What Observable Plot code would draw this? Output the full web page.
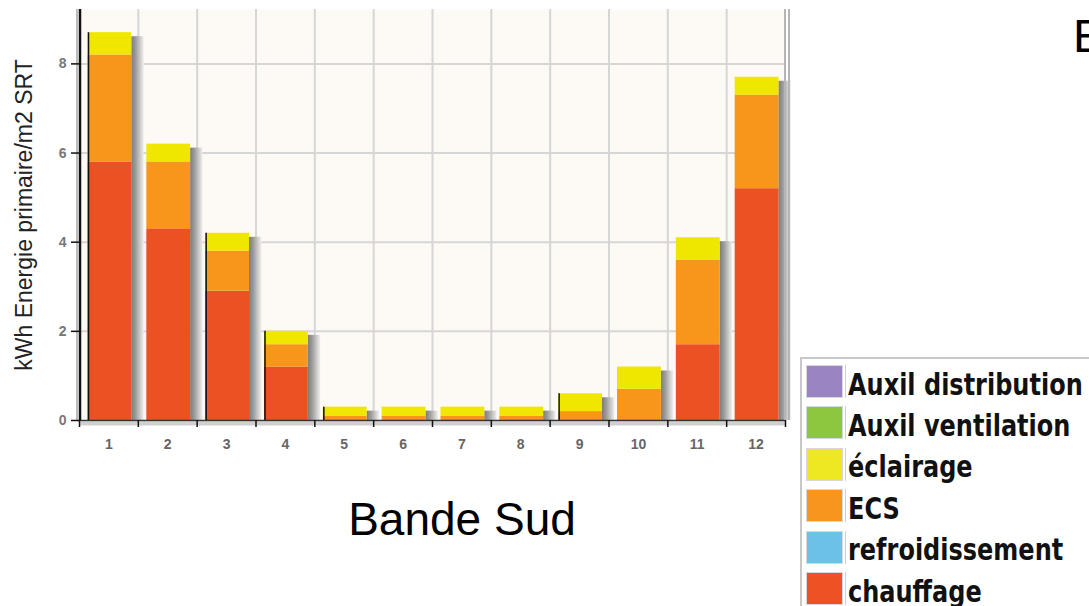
<!DOCTYPE html>
<html>
<head>
<meta charset="utf-8">
<script src="https://cdn.jsdelivr.net/npm/d3@7"></script>
<script src="https://cdn.jsdelivr.net/npm/@observablehq/plot@0.6"></script>
<style>
html, body { margin: 0; padding: 0; background: #fff; overflow: hidden; width: 1089px; height: 606px; }
#page { position: relative; width: 1089px; height: 606px; overflow: hidden; }
#chart { position: absolute; left: 0; top: 0; }
.big { position: absolute; font-family: "Liberation Sans", Arial, sans-serif; color: #000; line-height: 1; white-space: nowrap; }
#legend { position: absolute; left: 800px; top: 357px; width: 310px; height: 270px; border: 2px solid #c8c8c8; background: #fff; box-sizing: border-box; }
.row { position: absolute; left: 4px; width: 300px; height: 36px; }
.sw { position: absolute; left: 0; top: 0; width: 37px; height: 33px; box-sizing: border-box; border: 1px solid #d8d8d8; box-shadow: 2px 0 0 #fff, 3px 0 0 #d0d0d0; }
.lab { position: absolute; left: 42px; top: 4.6px; font-family: "DejaVu Sans", Verdana, sans-serif; font-weight: bold; font-size: 30px; line-height: 1; color: #111; transform: scaleX(0.8); transform-origin: 0 0; white-space: nowrap; }
</style>
</head>
<body>
<div id="page">
  <div id="chart"></div>
  <div class="big" id="title" style="font-size:46px; left:462px; top:496px; transform:translateX(-50%);"></div>
  <div class="big" id="title2" style="font-size:47px; left:1073px; top:12px;"></div>
  <div id="legend"></div>
</div>
<script>
// ---- data ----
const months = [1, 2, 3, 4, 5, 6, 7, 8, 9, 10, 11, 12];
const chauffage        = [5.8, 4.3, 2.9, 1.2, 0, 0, 0, 0, 0, 0, 1.7, 5.2];
const refroidissement  = [0, 0, 0, 0, 0, 0, 0, 0, 0, 0, 0, 0];
const ecs              = [2.4, 1.5, 0.9, 0.5, 0.1, 0.1, 0.1, 0.1, 0.2, 0.7, 1.9, 2.1];
const eclairage        = [0.5, 0.4, 0.4, 0.3, 0.2, 0.2, 0.2, 0.2, 0.4, 0.5, 0.5, 0.4];
const auxilVentilation = [0, 0, 0, 0, 0, 0, 0, 0, 0, 0, 0, 0];
const auxilDistribution= [0, 0, 0, 0, 0, 0, 0, 0, 0, 0, 0, 0];
const yTicks = [0, 2, 4, 6, 8];
const yLabel = "kWh Energie primaire/m2 SRT";
const chartTitle = "Bande Sud";
const otherTitle = "E";
const leftEdgeMonths = [1, 3, 4, 5, 9];

// stacking order (bottom to top)
const series = [
  {name: "chauffage", values: chauffage, color: "#eb5123", legendColor: "#ee5223"},
  {name: "refroidissement", values: refroidissement, color: "#6cc1e9", legendColor: "#6cc1e9"},
  {name: "ECS", values: ecs, color: "#f7961a", legendColor: "#f7961d"},
  {name: "éclairage", values: eclairage, color: "#efe700", legendColor: "#ede822"},
  {name: "Auxil ventilation", values: auxilVentilation, color: "#8dc63f", legendColor: "#8dc63f"},
  {name: "Auxil distribution", values: auxilDistribution, color: "#9a84c1", legendColor: "#9a84c1"}
];

// build stacked table
const rows = [];
const totals = [];
months.forEach((m, i) => {
  let c = 0;
  series.forEach(s => {
    const v = s.values[i];
    if (v > 0) rows.push({month: m, series: s.name, color: s.color, y1: c, y2: c + v});
    c += v;
  });
  totals.push({month: m, total: c});
});
const boundaries = d3.range(0, months.length + 1).map(k => k + 0.5);
const innerBoundaries = boundaries.slice(1, -1);
const totalOf = m => totals.find(t => t.month === m).total;

const plot = Plot.plot({
  width: 800,
  height: 470,
  marginLeft: 79,
  marginRight: 15,
  marginTop: 9,
  marginBottom: 50,
  x: {domain: [0.5, 12.5], axis: null},
  y: {domain: [0, 9.22], axis: null},
  style: {fontFamily: "'Liberation Sans', Arial, sans-serif", background: "transparent", overflow: "visible"},
  marks: [
    Plot.frame({fill: "#fdf9f5", stroke: null}),
    Plot.ruleY(yTicks.filter(d => d > 0), {stroke: "#d6d6d6", strokeWidth: 2}),
    Plot.ruleX(innerBoundaries, {stroke: "#d6d6d6", strokeWidth: 2}),
    // drop shadows (a strip just right of each bar)
    Plot.rectY(totals, {x1: d => d.month - 0.5, x2: d => d.month + 0.5, y1: 0, y2: "total",
      insetLeft: 40, insetRight: 6.5, insetTop: 4, dx: 12.3, fill: "url(#shadowGrad)"}),
    // stacked bars
    Plot.rectY(rows, {x1: d => d.month - 0.5, x2: d => d.month + 0.5, y1: "y1", y2: "y2",
      fill: "color", insetLeft: 8.5, insetRight: 6.5}),
    Plot.ruleX(leftEdgeMonths, {x: d => d - 0.5, y1: 0, y2: d => totalOf(d), dx: 9, stroke: "#111", strokeWidth: 1.5}),
    // x axis line
    Plot.ruleY([0], {stroke: "#d0d0d0", strokeWidth: 4, dy: 3}),
    Plot.ruleY([0], {stroke: "#333", strokeWidth: 1.5}),
    // left axis
    Plot.ruleX([0.5], {stroke: "#bdbdbd", strokeWidth: 2, dx: -2.5}),
    Plot.ruleX([0.5], {stroke: "#111", strokeWidth: 2.5, dx: 0.5}),
    // right edge
    Plot.ruleX([12.5], {stroke: "#b5b5b5", strokeWidth: 2, dx: -0.5}),
    Plot.ruleX([12.5], {stroke: "#b5b5b5", strokeWidth: 2, dx: 3.5}),
    // x boundary ticks
    Plot.ruleX(boundaries, {y1: 0, y2: 0, insetTop: 0, insetBottom: -7, stroke: "#111", strokeWidth: 1.5}),
    Plot.axisY(yTicks, {tickSize: 8, tickPadding: 5, fontSize: 14, fontWeight: "bold", color: "#777", stroke: "#111", strokeWidth: 1.5}),
    Plot.axisX(months, {tickSize: 0, tickPadding: 19, fontSize: 14, fontWeight: "bold", color: "#666"}),
    Plot.text([yLabel], {text: d => d, frameAnchor: "left", textAnchor: "middle", rotate: -90, dx: -55, dy: 0,
      fontSize: 23, fill: "#222", lineAnchor: "middle"})
  ]
});

// shadow gradient
const svg = d3.select(plot);
const grad = svg.insert("defs", ":first-child").append("linearGradient")
  .attr("id", "shadowGrad").attr("x1", 0).attr("x2", 1).attr("y1", 0).attr("y2", 0);
grad.append("stop").attr("offset", "0%").attr("stop-color", "#7c7c7c");
grad.append("stop").attr("offset", "35%").attr("stop-color", "#9c9c9c");
grad.append("stop").attr("offset", "100%").attr("stop-color", "#f0eeec");

document.getElementById("chart").appendChild(plot);
document.getElementById("title").textContent = chartTitle;
document.getElementById("title2").textContent = otherTitle;

// legend (top to bottom = reverse stacking order)
const legend = d3.select("#legend");
series.slice().reverse().forEach((s, i) => {
  const r = legend.append("div").attr("class", "row").style("top", (6 + i * 41.4) + "px");
  r.append("div").attr("class", "sw").style("background", s.legendColor);
  r.append("div").attr("class", "lab").text(s.name);
});
</script>
</body>
</html>
